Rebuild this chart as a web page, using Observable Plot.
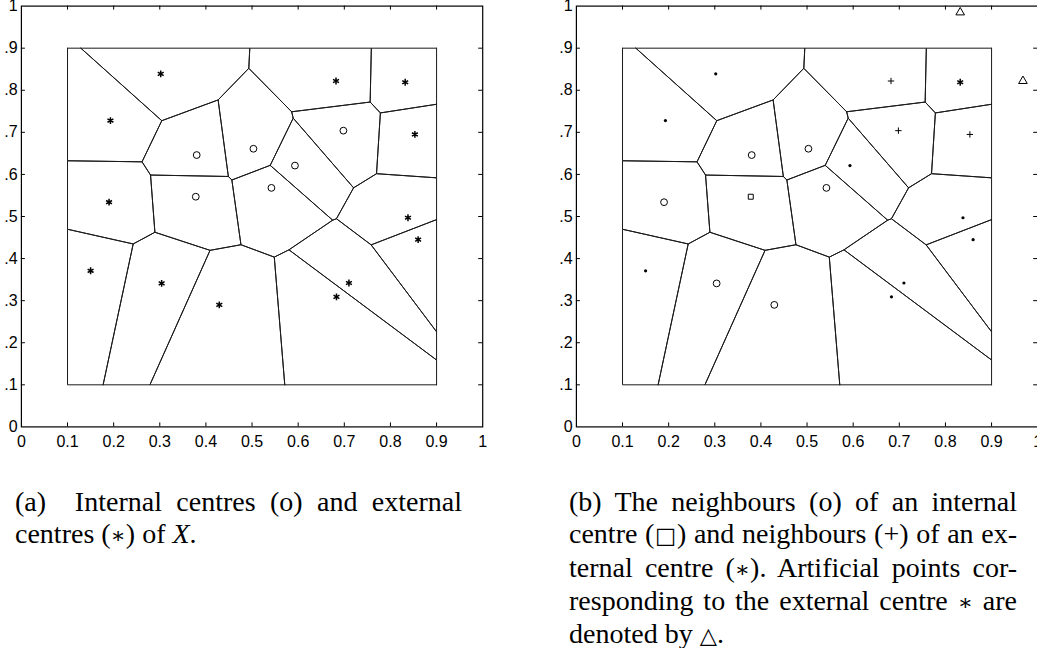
<!DOCTYPE html>
<html><head><meta charset="utf-8">
<script src="https://cdn.jsdelivr.net/npm/d3@7"></script>
<script src="https://cdn.jsdelivr.net/npm/@observablehq/plot@0.6"></script>
<style>
body{margin:0;background:#fff;width:1037px;height:648px;overflow:hidden;position:relative;}
.panel{position:absolute;top:0;width:500px;height:450px;}
.cap{position:absolute;top:486.2px;font-family:"Liberation Serif","Times New Roman",serif;font-size:28px;line-height:32.2px;color:#000;}
.cap .j{text-align:justify;text-align-last:justify;}
.m{font-family:"DejaVu Serif",serif;font-size:0.8em;}
</style></head><body>
<div id="pa" class="panel" style="left:0"></div>
<div id="pb" class="panel" style="left:555px"></div>
<div class="cap" style="left:15px;width:447px">
  <div class="j">(a)&nbsp; Internal centres (o) and external</div>
  <div>centres (<span class="m">∗</span>) of <i>X</i>.</div>
</div>
<div class="cap" style="left:569px;width:448px">
  <div class="j">(b) The neighbours (o) of an internal</div>
  <div class="j">centre (<span class="m">□</span>) and neighbours (+) of an ex-</div>
  <div class="j">ternal centre (<span class="m">∗</span>). Artificial points cor-</div>
  <div class="j">responding to the external centre <span class="m">∗</span> are</div>
  <div>denoted by <span class="m">△</span>.</div>
</div>
<script>
// ---- data ----
const centreX = [0.302, 0.193, 0.682, 0.832, 0.853, 0.190, 0.838, 0.860, 0.150, 0.304, 0.429, 0.683, 0.710,
                 0.380, 0.503, 0.593, 0.698, 0.378, 0.542];
const centreY = [0.839, 0.728, 0.822, 0.819, 0.695, 0.534, 0.497, 0.445, 0.371, 0.341, 0.290, 0.309, 0.342,
                 0.646, 0.661, 0.621, 0.704, 0.547, 0.568];
// panel (a): internal / external centres
const kindA = ["ext","ext","ext","ext","ext","ext","ext","ext","ext","ext","ext","ext","ext",
               "int","int","int","int","int","int"];
// panel (b): role of each centre
const kindB = ["dot","dot","plus","star","plus","circle","dot","dot","dot","circle","circle","dot","dot",
               "circle","circle","dot","plus","square","circle"];
// artificial points of the external centre (panel b)
const artificialX = [0.832, 0.968];
const artificialY = [0.985, 0.822];
// bounding box of the Voronoi diagram
const boxBounds = [0.1, 0.1, 0.9, 0.9];
// ticks
const xTicks = [0, 0.1, 0.2, 0.3, 0.4, 0.5, 0.6, 0.7, 0.8, 0.9, 1];
const xTickLabels = ["0","0.1","0.2","0.3","0.4","0.5","0.6","0.7","0.8","0.9","1"];
const yTicks = [0, 0.1, 0.2, 0.3, 0.4, 0.5, 0.6, 0.7, 0.8, 0.9, 1];
const yTickLabels = ["0",".1",".2",".3",".4",".5",".6",".7",".8",".9","1"];
const innerTicks = [0.1, 0.2, 0.3, 0.4, 0.5, 0.6, 0.7, 0.8, 0.9];

// ---- derived ----
const centres = centreX.map((x, i) => ({x, y: centreY[i], a: kindA[i], b: kindB[i]}));
const artificial = artificialX.map((x, i) => ({x, y: artificialY[i]}));
const vor = d3.Delaunay.from(centres, d => d.x, d => d.y).voronoi(boxBounds);
const cellPts = centres.flatMap((c, i) => (vor.cellPolygon(i) || []).map(([x, y]) => ({x, y, cell: i})));

const W = 500, H = 450, ML = 20.9, MR = 17.8, MT = 5.6, MB = 23.6;
const PW = W - ML - MR, PH = H - MT - MB, TL = 4;

function basePlot(markers) {
  return Plot.plot({
    width: W, height: H,
    marginLeft: ML, marginRight: MR, marginTop: MT, marginBottom: MB,
    x: {domain: [0, 1]}, y: {domain: [0, 1]},
    style: {fontFamily: '"Liberation Sans Narrow","Liberation Sans",Arial,sans-serif', fontSize: "16px",
            color: "#000", background: "transparent", maxWidth: "none", overflow: "visible"},
    marks: [
      Plot.line(cellPts, {x: "x", y: "y", z: "cell", stroke: "#1a1a1a", strokeWidth: 1}),
      Plot.frame({stroke: "#000", strokeWidth: 1.2}),
      // inward tick marks on all four sides
      Plot.ruleX(innerTicks, {x: d => d, insetTop: PH - TL, stroke: "#000"}),
      Plot.ruleX(innerTicks, {x: d => d, insetBottom: PH - TL, stroke: "#000"}),
      Plot.ruleY(innerTicks, {y: d => d, insetRight: PW - TL, stroke: "#000"}),
      Plot.ruleY(innerTicks, {y: d => d, insetLeft: PW - TL, stroke: "#000"}),
      Plot.axisX({anchor: "bottom", ticks: xTicks, tickSize: 0, tickPadding: 8.6,
                  tickFormat: d => xTickLabels[xTicks.indexOf(d)], label: null}),
      Plot.axisY({anchor: "left", ticks: yTicks, tickSize: 0, tickPadding: 3.8,
                  tickFormat: d => yTickLabels[yTicks.indexOf(d)], label: null}),
      ...markers
    ]
  });
}

const plotA = basePlot([
  Plot.dot(centres.filter(d => d.a === "int"), {x: "x", y: "y", symbol: "circle", r: 3.4, fill: "none", stroke: "#000", strokeWidth: 1}),
  Plot.dot(centres.filter(d => d.a === "ext"), {x: "x", y: "y", symbol: "asterisk", r: 3.2, stroke: "#000", strokeWidth: 1.5})
]);
document.getElementById("pa").append(plotA);

const plotB = basePlot([
  Plot.dot(centres.filter(d => d.b === "circle"), {x: "x", y: "y", symbol: "circle", r: 3.4, fill: "none", stroke: "#000", strokeWidth: 1}),
  Plot.dot(centres.filter(d => d.b === "square"), {x: "x", y: "y", symbol: "square", r: 2.8, fill: "none", stroke: "#000", strokeWidth: 1}),
  Plot.dot(centres.filter(d => d.b === "plus"), {x: "x", y: "y", symbol: "plus", r: 2.2, stroke: "#000", strokeWidth: 1}),
  Plot.dot(centres.filter(d => d.b === "star"), {x: "x", y: "y", symbol: "asterisk", r: 3.2, stroke: "#000", strokeWidth: 1.5}),
  Plot.dot(centres.filter(d => d.b === "dot"), {x: "x", y: "y", symbol: "circle", r: 1.6, fill: "#000", stroke: "none"}),
  Plot.dot(artificial, {x: "x", y: "y", symbol: "triangle", r: 3.2, fill: "none", stroke: "#000", strokeWidth: 1})
]);
document.getElementById("pb").append(plotB);
</script>
</body></html>
